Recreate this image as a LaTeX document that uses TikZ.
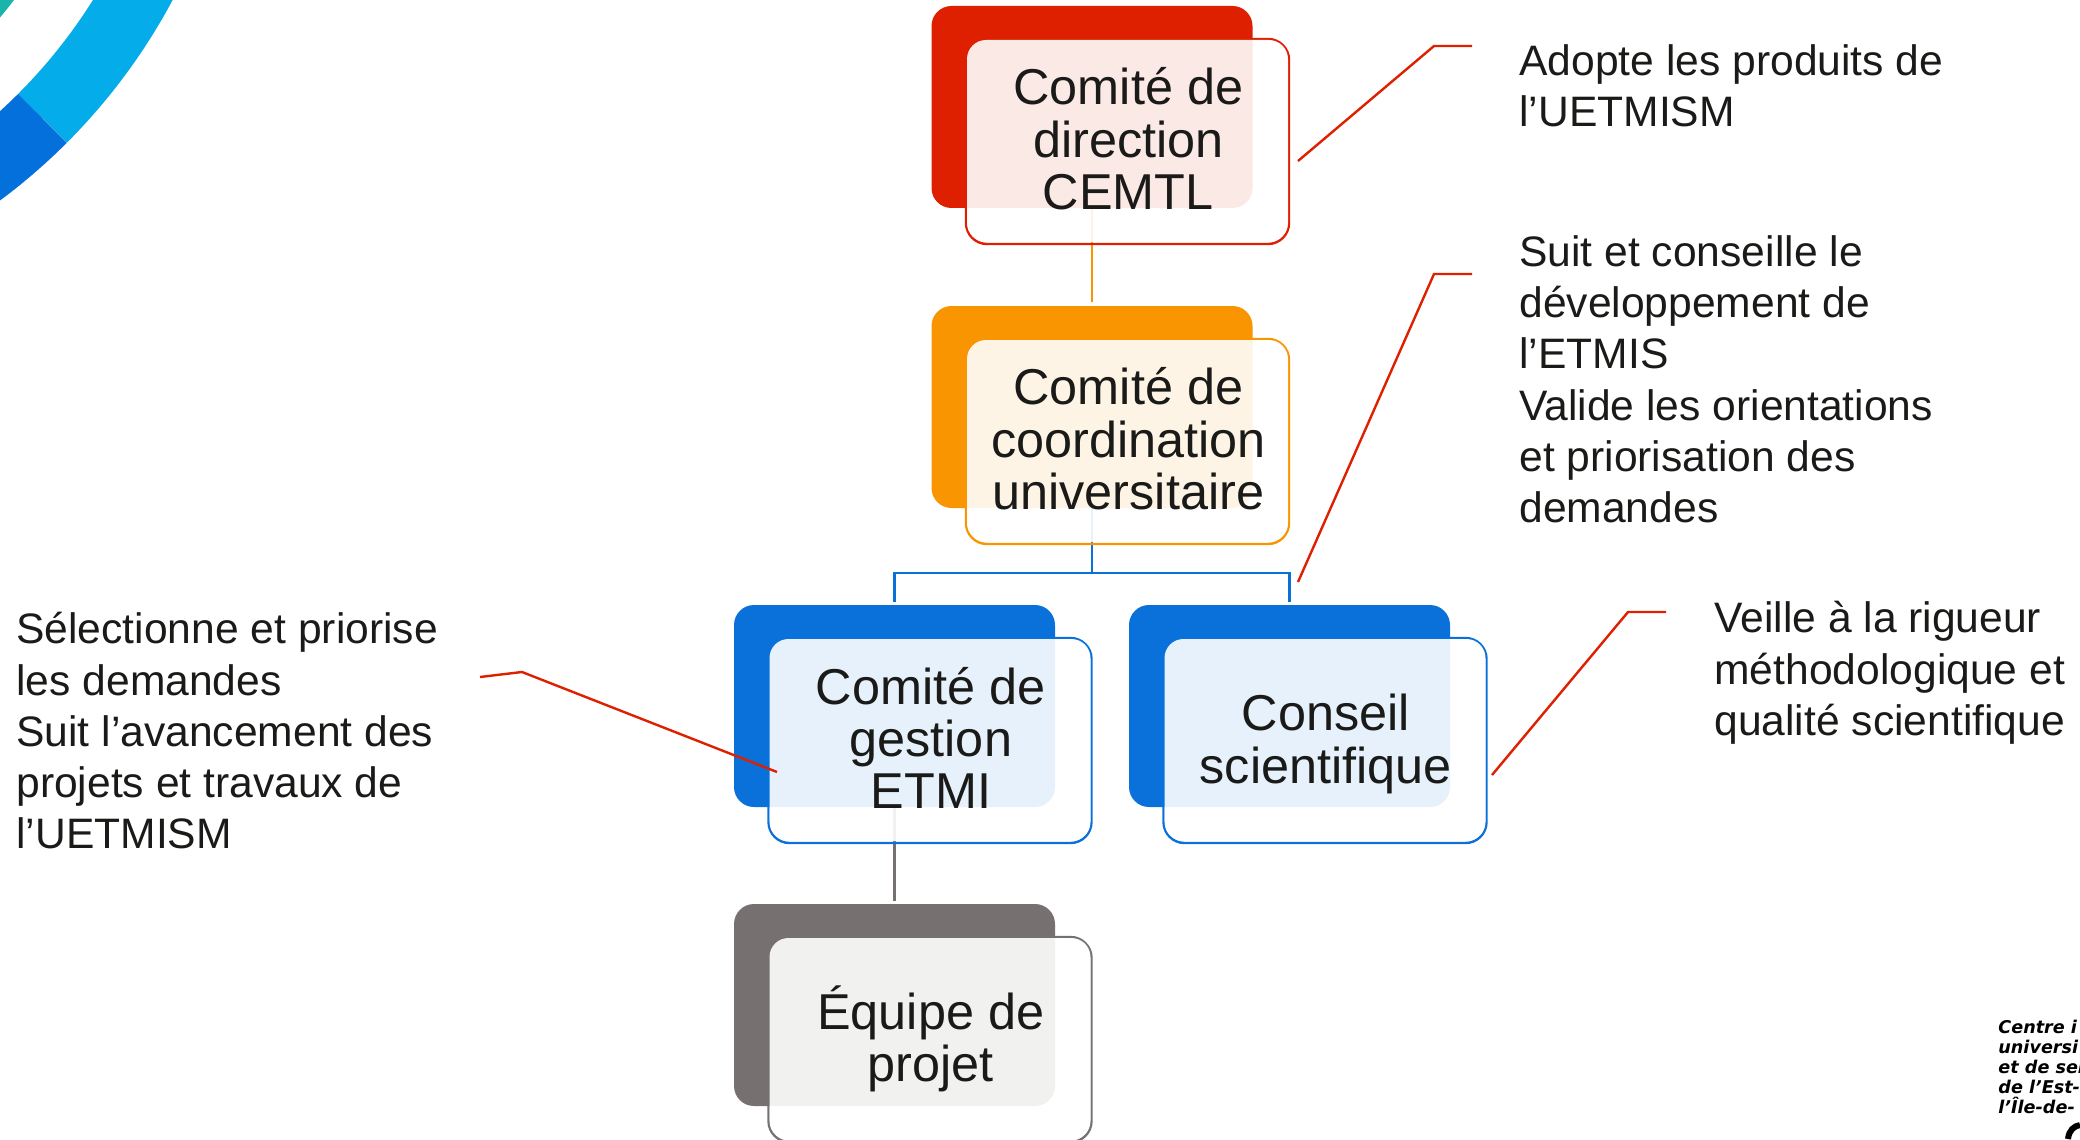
\documentclass[tikz,border=0pt]{standalone}
\usepackage{fontspec}
\setmainfont{Liberation Sans}
\newfontfamily\logofont{DejaVu Sans}
\definecolor{rougeC}{HTML}{DE1F00}
\definecolor{orangeC}{HTML}{F99500}
\definecolor{bleuC}{HTML}{0A71DA}
\definecolor{grisC}{HTML}{767170}
\definecolor{encre}{HTML}{1A1A18}
\pgfdeclarelayer{liens}
\pgfsetlayers{liens,main}
\tikzset{
  backbox/.style={rectangle,rounded corners=10pt,minimum width=160.5pt,minimum height=101pt,inner sep=0pt},
  outlinebox/.style={rectangle,rounded corners=10.5pt,minimum width=161.5pt,minimum height=102.5pt,inner sep=0pt,line width=1.2pt},
  frontbox/.style={rectangle,rounded corners=9.5pt,minimum width=160.5pt,minimum height=101pt,inner sep=0pt,
    fill=white,fill opacity=.9},
  boxtext/.style={inner sep=0pt,text=encre,align=center,font=\fontsize{25.2}{26.2}\selectfont},
  sidetext/.style={anchor=north west,inner sep=0pt,text=encre,align=left,font=\fontsize{21.3}{25.65}\selectfont},
  logotext/.style={anchor=base west,inner sep=0pt,text=black,font=\logofont\bfseries\itshape\fontsize{8.8}{10}\selectfont},
  liaison/.style={line width=1.4pt},
  renvoi/.style={draw=rougeC,line width=1.2pt}
}
\begin{document}
\begin{tikzpicture}[x=.5pt,y=-.5pt]
\path[use as bounding box,clip](0,0)rectangle(2080,1139);

\draw[line width=34.5pt,color={rgb,255:red,4;green,173;blue,234}](-361,-285)++(25:570.5)arc(25:45:570.5);
\draw[line width=34.5pt,color={rgb,255:red,4;green,112;blue,220}](-361,-285)++(45:570.5)arc(45:70:570.5);
\draw[line width=35pt,color={rgb,255:red,25;green,181;blue,172}](-361,-285)++(30:436)arc(30:60:436);

\foreach \name/\xx/\yy/\dy/\col/\lab in {
  A/1092/107/-2/rougeC/{Comité de\\direction\\CEMTL},
  B/1092/407/-2/orangeC/{Comité de\\coordination\\universitaire},
  C/894.5/706/-2/bleuC/{Comité de\\gestion\\ETMI},
  D/1289.5/706/4/bleuC/{Conseil\\scientifique},
  E/894.5/1005/0/grisC/{Équipe de\\projet}}
{
    \node[outlinebox,draw=\col](line\name)at(\xx+35.5,\yy+34.5){};
    \node[backbox,fill=\col](back\name)at(\xx,\yy){};
    \node[frontbox](front\name)at(\xx+35.5,\yy+34){};
    \node[boxtext](label\name)at(\xx+36.3,\yy+34+\dy){\lab};
}

\coordinate(busB)at(backB.south|-0,573);
\begin{pgfonlayer}{liens}
\draw[liaison,orangeC,shorten >=2pt](backA.south)--(backB.north);
\draw[liaison,bleuC](backB.south)--(busB);
\draw[liaison,bleuC,shorten <=1.5pt,shorten >=1.5pt](backC.north)|-(busB)-|(backD.north);
\draw[liaison,grisC,shorten >=1.5pt](backC.south)--(backE.north);
\end{pgfonlayer}

\node[sidetext](texteA)at(1519,44){Adopte les produits de\\l’UETMISM};
\node[sidetext](texteB)at(1519,235){Suit et conseille le\\développement de\\l’ETMIS\\Valide les orientations\\et priorisation des\\demandes};
\node[sidetext](texteC)at(16,612){Sélectionne et priorise\\les demandes\\Suit l’avancement des\\projets et travaux de\\l’UETMISM};
\node[sidetext](texteD)at(1714,601){Veille à la rigueur\\méthodologique et\\qualité scientifique};

\coordinate(debutA)at(1298,161);
\coordinate(coudeA)at(1434,46);
\coordinate(finA)at(1472,46);
\coordinate(debutB)at(1298,582);
\coordinate(coudeB)at(1434,274);
\coordinate(finB)at(1472,274);
\coordinate(debutC)at(777,772);
\coordinate(coudeC)at(522,672);
\coordinate(finC)at(480,677);
\coordinate(debutD)at(1492,775);
\coordinate(coudeD)at(1628,612);
\coordinate(finD)at(1666,612);
\foreach \name in {A,B,C,D}
{
    \draw[renvoi](debut\name)--(coude\name)--(fin\name);
}

\node[logotext](logoA)at(1998,1033){Centre i};
\node[logotext](logoB)at(1998,1053){universi};
\node[logotext](logoC)at(1998,1073){et de ser};
\node[logotext](logoD)at(1998,1093){de l’Est-};
\node[logotext](logoE)at(1998,1113){l’Île-de-};
\draw[line width=3pt,black](2068,1139)..controls(2069,1130)and(2074,1126)..(2080,1125);
\end{tikzpicture}
\end{document}
